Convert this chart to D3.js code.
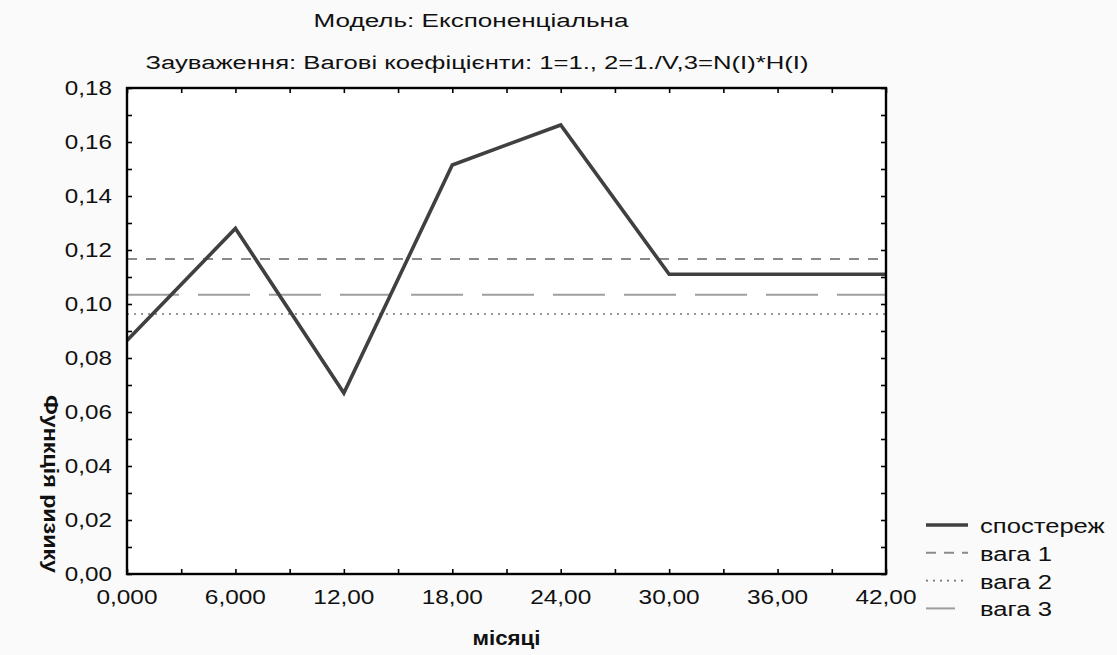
<!DOCTYPE html>
<html>
<head>
<meta charset="utf-8">
<script src="https://cdn.jsdelivr.net/npm/d3@7"></script>
<style>
  html, body { margin: 0; padding: 0; background: #fafafa; }
  svg { display: block; font-family: "Liberation Sans", Arial, sans-serif; }
</style>
</head>
<body>
<svg id="chart"></svg>
<script>
// дані графіка
const months = [0, 6, 12, 18, 24, 30, 42];
const hazard = [0.0865, 0.128, 0.067, 0.1515, 0.1663, 0.111, 0.111];

const weightNames = ["вага 1", "вага 2", "вага 3"];
const weightValues = [0.1167, 0.0963, 0.1034];

const xTicks = [0, 6, 12, 18, 24, 30, 36, 42];
const xTickLabels = ["0,000", "6,000", "12,00", "18,00", "24,00", "30,00", "36,00", "42,00"];
const yTicks = [0, 0.02, 0.04, 0.06, 0.08, 0.1, 0.12, 0.14, 0.16, 0.18];
const yTickLabels = ["0,00", "0,02", "0,04", "0,06", "0,08", "0,10", "0,12", "0,14", "0,16", "0,18"];

const legendNames = ["спостереж", "вага 1", "вага 2", "вага 3"];

// розміри
const width = 1117;
const height = 655;
const M = { left: 127, right: 886, top: 88, bottom: 574 };

const svg = d3.select("#chart").attr("width", width).attr("height", height);

const x = d3.scaleLinear().domain([0, 42]).range([M.left, M.right]);
const y = d3.scaleLinear().domain([0, 0.18]).range([M.bottom, M.top]);

// розтягнути текст по горизонталі (у оригіналі шрифт ширший)
function stretch(sel, k) {
  sel.each(function () {
    const len = this.getComputedTextLength();
    d3.select(this)
      .attr("textLength", len * k)
      .attr("lengthAdjust", "spacingAndGlyphs");
  });
}

// область графіка
svg.append("rect")
  .attr("x", M.left).attr("y", M.top)
  .attr("width", M.right - M.left).attr("height", M.bottom - M.top)
  .attr("fill", "#fff");

// стилі ліній
const styles = [
  { stroke: "#404040", width: 3.6, dash: null },
  { stroke: "#8a8a8a", width: 2, dash: "10,9" },
  { stroke: "#777", width: 1.6, dash: "2,5" },
  { stroke: "#9e9e9e", width: 2, dash: "52,19" },
];

// горизонтальні лінії ваг
weightValues.forEach((v, i) => {
  const s = styles[i + 1];
  svg.append("line")
    .attr("x1", x(0)).attr("x2", x(42))
    .attr("y1", y(v)).attr("y2", y(v))
    .attr("stroke", s.stroke)
    .attr("stroke-width", s.width)
    .attr("stroke-dasharray", s.dash);
});

// лінія спостережень
const line = d3.line().x((d, i) => x(months[i])).y(d => y(d));
svg.append("path")
  .datum(hazard)
  .attr("d", line)
  .attr("fill", "none")
  .attr("stroke", styles[0].stroke)
  .attr("stroke-width", styles[0].width)
  .attr("stroke-linejoin", "miter");

// осі з внутрішніми рисками
const xMinor = d3.range(0, 42.01, 3);
const yMinor = d3.range(0, 0.1801, 0.01);

svg.append("g")
  .attr("transform", `translate(0,${M.bottom})`)
  .call(d3.axisTop(x).tickValues(xMinor).tickSize(5).tickFormat(""))
  .call(g => g.select(".domain").remove());
svg.append("g")
  .attr("transform", `translate(0,${M.top})`)
  .call(d3.axisBottom(x).tickValues(xMinor).tickSize(5).tickFormat(""))
  .call(g => g.select(".domain").remove());
svg.append("g")
  .attr("transform", `translate(${M.left},0)`)
  .call(d3.axisRight(y).tickValues(yMinor).tickSize(5).tickFormat(""))
  .call(g => g.select(".domain").remove());
svg.append("g")
  .attr("transform", `translate(${M.right},0)`)
  .call(d3.axisLeft(y).tickValues(yMinor).tickSize(5).tickFormat(""))
  .call(g => g.select(".domain").remove());
svg.selectAll(".tick line").attr("stroke", "#000").attr("stroke-width", 1.6);

// рамка
svg.append("rect")
  .attr("x", M.left).attr("y", M.top)
  .attr("width", M.right - M.left).attr("height", M.bottom - M.top)
  .attr("fill", "none")
  .attr("stroke", "#000")
  .attr("stroke-width", 2.4);

// підписи рисок
svg.append("g")
  .selectAll("text")
  .data(xTicks)
  .join("text")
  .attr("x", d => x(d))
  .attr("y", 604)
  .attr("text-anchor", "middle")
  .attr("font-size", 20)
  .attr("fill", "#111")
  .text((d, i) => xTickLabels[i])
  .call(stretch, 1.22);

svg.append("g")
  .selectAll("text")
  .data(yTicks)
  .join("text")
  .attr("x", M.left - 15)
  .attr("y", d => y(d) + 7)
  .attr("text-anchor", "end")
  .attr("font-size", 20)
  .attr("fill", "#111")
  .text((d, i) => yTickLabels[i])
  .call(stretch, 1.21);

// заголовки
svg.append("text")
  .attr("x", 471).attr("y", 27)
  .attr("text-anchor", "middle")
  .attr("font-size", 18)
  .attr("textLength", 315)
  .attr("lengthAdjust", "spacingAndGlyphs")
  .attr("fill", "#111")
  .text("Модель: Експоненціальна");

svg.append("text")
  .attr("x", 477).attr("y", 69)
  .attr("text-anchor", "middle")
  .attr("font-size", 18)
  .attr("textLength", 663)
  .attr("lengthAdjust", "spacingAndGlyphs")
  .attr("fill", "#111")
  .text("Зауваження: Вагові коефіцієнти: 1=1., 2=1./V,3=N(I)*H(I)");

// назви осей
svg.append("text")
  .attr("x", (M.left + M.right) / 2).attr("y", 645)
  .attr("text-anchor", "middle")
  .attr("font-size", 20)
  .attr("font-weight", "bold")
  .attr("textLength", 68)
  .attr("lengthAdjust", "spacingAndGlyphs")
  .attr("fill", "#111")
  .text("місяці");

svg.append("text")
  .attr("transform", "translate(44,484) rotate(90)")
  .attr("text-anchor", "middle")
  .attr("font-size", 20)
  .attr("font-weight", "bold")
  .attr("textLength", 178)
  .attr("lengthAdjust", "spacingAndGlyphs")
  .attr("fill", "#111")
  .text("Функція ризику");

// легенда
const legend = svg.append("g").attr("transform", "translate(926,525)");
const rowH = 27.8;
legendNames.forEach((name, i) => {
  const s = styles[i];
  const row = legend.append("g").attr("transform", `translate(0,${i * rowH})`);
  row.append("line")
    .attr("x1", 0).attr("x2", i === 3 ? 29 : 42)
    .attr("y1", 0).attr("y2", 0)
    .attr("stroke", s.stroke)
    .attr("stroke-width", s.width)
    .attr("stroke-dasharray", i === 1 ? "10,8" : s.dash);
  row.append("text")
    .attr("x", 54).attr("y", 8)
    .attr("font-size", 20)
    .attr("fill", "#111")
    .text(name)
    .call(stretch, 1.28);
});
</script>
</body>
</html>
